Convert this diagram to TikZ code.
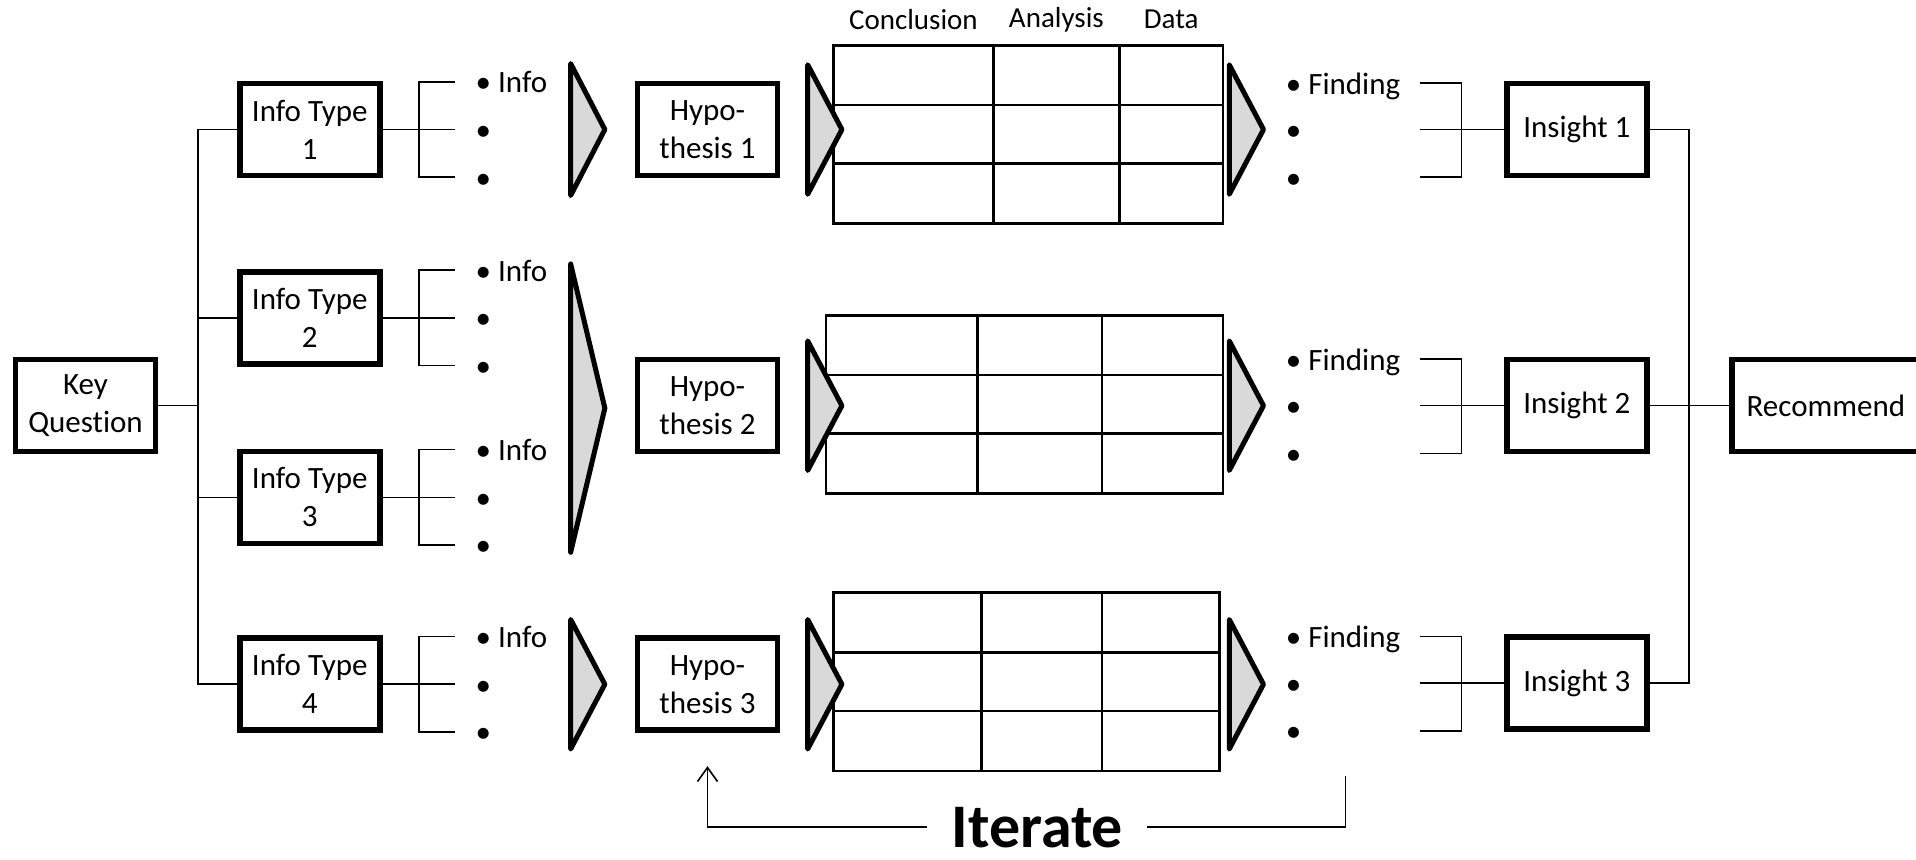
\documentclass[tikz,border=0pt]{standalone}
\usepackage{fontspec}
\setmainfont{Carlito}[Ligatures={NoCommon,NoContextual}]
\usetikzlibrary{arrows.meta}
\definecolor{chevgray}{HTML}{D9D9D9}
\begin{document}
\begin{tikzpicture}[x=0.61095pt,y=-0.61095pt,
  box/.style={draw,line width=2.8pt,minimum width=70pt,minimum height=46pt,align=center,inner sep=0pt,font=\fontsize{15.5}{19}\selectfont},
  conn/.style={line width=0.8pt},
  gridline/.style={line width=1.3pt},
  chev/.style={draw,fill=chevgray,line width=2.5pt,line join=round},
  lbl/.style={inner sep=0pt,anchor=base west,font=\fontsize{15.5}{19}\selectfont},
  hdr/.style={inner sep=0pt,font=\fontsize{14.5}{17}\selectfont}]
\useasboundingbox (0,0) rectangle (1568,703);

% Key question and trunk
\node[box] (kq) at (70,332) {Key\\Question};
\coordinate (kt) at (162,332);
\draw[conn] (kq.east) -- (kt);

% Info types with brackets and bullets
\foreach \c/\n in {106/1,260/2,407/3,560/4}{
  \node[box] (it\n) at (253.5,\c) {Info Type\\\n};
  \draw[conn] (kt) |- (it\n.west);
  \coordinate (ib\n) at (343,\c);
  \coordinate (ia\n) at (372,\c-39);
  \coordinate (im\n) at (372,\c);
  \coordinate (ic\n) at (372,\c+39);
  \draw[conn] (it\n.east) -- (ib\n) -- (im\n);
  \draw[conn] (ia\n) -| (ib\n) |- (ic\n);
  \node[lbl] (info\n) at (389,\c-30) {• Info};
  \node[lbl] (bm\n) at (389,\c+9) {•};
  \node[lbl] (bl\n) at (389,\c+48) {•};
}

% Hypotheses
\node[box] (hy1) at (579,106) {Hypo-\\thesis 1};
\node[box] (hy2) at (579,332) {Hypo-\\thesis 2};
\node[box] (hy3) at (579,560) {Hypo-\\thesis 3};

% Tables
\draw[gridline] (682,37) rectangle (1001,183);
\foreach \yy in {86,134} \draw[gridline] (682,\yy) -- (1001,\yy);
\foreach \xx in {813,916} \draw[gridline] (\xx,37) -- (\xx,183);

\draw[gridline] (676,258) rectangle (1001,404);
\foreach \yy in {307,355} \draw[gridline] (676,\yy) -- (1001,\yy);
\foreach \xx in {800,902} \draw[gridline] (\xx,258) -- (\xx,404);

\draw[gridline] (682,485) rectangle (998,631);
\foreach \yy in {534,582} \draw[gridline] (682,\yy) -- (998,\yy);
\foreach \xx in {803,902} \draw[gridline] (\xx,485) -- (\xx,631);

\node[hdr] (hc) at (747.5,16) {Conclusion};
\node[hdr] (ha) at (864.5,16) {Analysis};
\node[hdr] (hd) at (958.5,16) {Data};

% Chevrons
\draw[chev] (467,52) -- (495,106) -- (467,160) -- cycle;
\draw[chev] (467,216) -- (495,334) -- (467,452) -- cycle;
\draw[chev] (467,507) -- (495,560) -- (467,613) -- cycle;
\foreach \c in {106,332,560}{
  \draw[chev] (661,\c-53) -- (689,\c) -- (661,\c+53) -- cycle;
  \draw[chev] (1006,\c-53) -- (1034,\c) -- (1006,\c+53) -- cycle;
}

% Findings and insights
\foreach \c/\n in {106/1,332/2,559/3}{
  \node[lbl] (fi\n) at (1052,\c-29) {• Finding};
  \node[lbl] (fm\n) at (1052,\c+9) {•};
  \node[lbl] (fl\n) at (1052,\c+48) {•};
  \node[box] (in\n) at (1290.5,\c) {Insight \n};
  \coordinate (fa\n) at (1162,\c-38);
  \coordinate (fb\n) at (1196,\c);
  \coordinate (fs\n) at (1162,\c);
  \coordinate (fc\n) at (1162,\c+39);
  \draw[conn] (fa\n) -| (fb\n) |- (fc\n);
  \draw[conn] (fs\n) -- (in\n.west);
}

% Recommend (right edge runs past the picture)
\node[box,minimum width=106pt,anchor=west] (rec) at (1415,332) {Recommend\hspace*{12pt}};
\coordinate (rt) at (1382,332);
\draw[conn] (in1.east) -| (rt);
\draw[conn] (in3.east) -| (rt);
\draw[conn] (in2.east) -- (rec.west);

% Iterate loop
\node[inner xsep=12pt,inner ysep=0pt,font=\fontsize{31}{35}\bfseries\selectfont] (iter) at (849,677) {Iterate};
\coordinate (itS) at (1101,635);
\coordinate (itE) at (579,627);
\draw[conn] (itS) |- (iter.east);
\draw[conn,-{Straight Barb[length=7pt,width=10pt]}] (iter.west) -| (itE);
\end{tikzpicture}
\end{document}
